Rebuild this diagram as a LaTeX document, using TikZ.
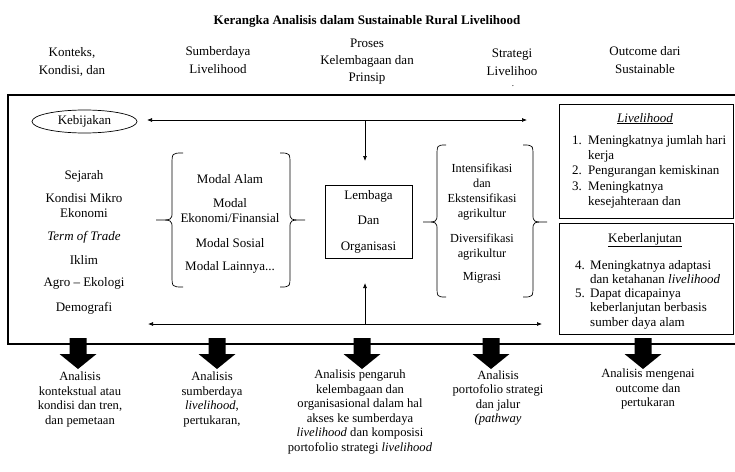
\documentclass[tikz,border=0pt]{standalone}
\usepackage{fontspec}
\setmainfont{Liberation Serif}
\usetikzlibrary{arrows.meta,shapes.geometric}
\tikzset{
  txt/.style={font=\fontsize{13}{15}\selectfont, align=center, inner sep=0pt},
  hdr/.style={font=\fontsize{13}{18}\selectfont, align=center, inner sep=0pt},
  stxt/.style={font=\fontsize{12.3}{15}\selectfont, align=center, inner sep=0pt},
  btxt/.style={font=\fontsize{12.6}{14.6}\selectfont, align=center, inner sep=0pt},
  ltxt/.style={font=\fontsize{13}{15}\selectfont, inner sep=0pt, anchor=base west},
  arr/.style={-{Latex[length=5pt,width=4pt]}, line width=0.7pt},
  ln/.style={line width=0.7pt},
  frame/.style={draw, line width=1pt, inner sep=0pt},
  bigarrow/.style={fill=black},
}
\begin{document}
\begin{tikzpicture}[x=1pt,y=-1pt]
\useasboundingbox (0,0) rectangle (735,471);
\clip (0,0) rectangle (735,471);
\fill[white] (0,0) rectangle (735,471);

% title and headers
\node[font=\bfseries\fontsize{13}{15}\selectfont, inner sep=0pt] (title) at (367,21) {Kerangka Analisis dalam Sustainable Rural Livelihood};
\node[hdr] (h1) at (72,62) {Konteks,\\Kondisi, dan};
\node[hdr] (h2) at (218,60) {Sumberdaya\\Livelihood};
\node[hdr, font=\fontsize{13}{17}\selectfont] (h3) at (367,62) {Proses\\Kelembagaan dan\\Prinsip};
\node[hdr] (h4) at (512,62) {Strategi\\Livelihoo};
\node[font=\fontsize{9}{10}\selectfont, inner sep=0pt, anchor=base] (h4dot) at (513,86) {.};
\node[hdr] (h5) at (645,60) {Outcome dari\\Sustainable};

% main frame (open on the right, beyond the page)
\draw[line width=1.1pt] (745,95) -- (8,95) -- (8,344) -- (745,344);

% policy ellipse
\node[draw, ellipse, line width=0.7pt, minimum width=105pt, minimum height=23pt, inner sep=0pt, font=\fontsize{13}{15}\selectfont] (keb) at (84.5,121.5) {Kebijakan};

% left column
\node[txt] (c1) at (84,176) {Sejarah};
\node[txt] (c2) at (84,205.5) {Kondisi Mikro\\Ekonomi};
\node[txt, font=\itshape\fontsize{13}{15}\selectfont] (c3) at (84,237) {Term of Trade};
\node[txt] (c4) at (84,260) {Iklim};
\node[txt] (c5) at (84,283) {Agro -- Ekologi};
\node[txt] (c6) at (84,308) {Demografi};

% capital column
\node[txt] (m1) at (230,179) {Modal Alam};
\node[txt] (m2) at (230,210.5) {Modal\\Ekonomi/Finansial};
\node[txt] (m3) at (230,243) {Modal Sosial};
\node[txt] (m4) at (230,267) {Modal Lainnya...};
% braces
\draw[ln] (183,153) .. controls (172,153) .. (172,165) -- (172,212) .. controls (172,220) .. (156,220)
          .. controls (172,220) .. (172,228) -- (172,275) .. controls (172,287) .. (183,287);
\draw[ln] (280,153) .. controls (290,153) .. (290,165) -- (290,212) .. controls (290,220) .. (305,220)
          .. controls (290,220) .. (290,228) -- (290,275) .. controls (290,287) .. (280,287);

% institutions box
\node[draw, line width=0.8pt, minimum width=87pt, minimum height=73pt, inner sep=0pt,
      font=\fontsize{13}{25.5}\selectfont, align=center] (lem) at (368.5,221.5) {Lembaga\\Dan\\Organisasi};

% connectors
\coordinate (jt) at (365,120);
\coordinate (jtL) at (147,120);
\coordinate (jtR) at (527,120);
\coordinate (dtip) at (365,161);
\coordinate (jb) at (365,324);
\coordinate (jbL) at (148,324);
\coordinate (jbR) at (542,324);
\coordinate (utip) at (365,283);
\draw[arr] (jt) -- (jtL);
\draw[arr] (jt) -- (jtR);
\draw[arr] (jt) -- (dtip);
\draw[arr] (jb) -- (jbL);
\draw[arr] (jb) -- (jbR);
\draw[arr] (jb) -- (utip);

% strategy column
\node[stxt] (s1) at (482,191.5) {Intensifikasi\\dan\\Ekstensifikasi\\agrikultur};
\node[stxt] (s2) at (482,246.5) {Diversifikasi\\agrikultur};
\node[stxt] (s3) at (482,278) {Migrasi};
\draw[ln] (446,145) .. controls (437,145) .. (437,157) -- (437,214) .. controls (437,222) .. (423,222)
          .. controls (437,222) .. (437,230) -- (437,285) .. controls (437,297) .. (446,297);
\draw[ln] (523,145) .. controls (533,145) .. (533,157) -- (533,214) .. controls (533,222) .. (547,222)
          .. controls (533,222) .. (533,230) -- (533,285) .. controls (533,297) .. (523,297);

% outcome boxes
\node[frame, minimum width=174pt, minimum height=114pt, anchor=north west] (box1) at (559,104) {};
\node[frame, minimum width=174pt, minimum height=111pt, anchor=north west] (box2) at (559,223) {};
\node[txt, anchor=base] (o1h) at (645,122) {\underline{\textit{Livelihood}}};
\node[ltxt] (n1) at (572,144) {1.};
\node[ltxt] (t1) at (588,144) {Meningkatnya jumlah hari};
\node[ltxt] (t1b) at (588,159) {kerja};
\node[ltxt] (n2) at (572,174) {2.};
\node[ltxt] (t2) at (588,174) {Pengurangan kemiskinan};
\node[ltxt] (n3) at (572,190) {3.};
\node[ltxt] (t3) at (588,190) {Meningkatnya};
\node[ltxt] (t3b) at (588,205) {kesejahteraan dan};
\node[txt, anchor=base] (o2h) at (645,242) {\underline{Keberlanjutan}};
\node[ltxt] (n4) at (575,269) {4.};
\node[ltxt] (t4) at (590,269) {Meningkatnya adaptasi};
\node[ltxt] (t4b) at (590,283) {dan ketahanan \textit{livelihood}};
\node[ltxt] (n5) at (575,297) {5.};
\node[ltxt] (t5) at (590,297) {Dapat dicapainya};
\node[ltxt] (t5b) at (590,311) {keberlanjutan berbasis};
\node[ltxt] (t5c) at (590,326) {sumber daya alam};

% big down arrows
\foreach \cx in {78,217,362,491,643}{
  \fill[bigarrow] (\cx-8.5,338) -- (\cx+8.5,338) -- (\cx+8.5,354) -- (\cx+18.5,354)
        -- (\cx,369) -- (\cx-18.5,354) -- (\cx-8.5,354) -- cycle;
}

% bottom analyses
\node[btxt] (b1) at (80,399.5) {Analisis\\kontekstual atau\\kondisi dan tren,\\dan pemetaan};
\node[btxt] (b2) at (212,399.5) {Analisis\\sumberdaya\\\textit{livelihood},\\pertukaran,};
\node[btxt] (b3) at (360,412) {Analisis pengaruh\\kelembagaan dan\\organisasional dalam hal\\akses ke sumberdaya\\\textit{livelihood} dan komposisi\\portofolio strategi \textit{livelihood}};
\node[btxt] (b4) at (498,398) {Analisis\\portofolio strategi\\dan jalur\\\textit{(pathway}};
\node[btxt] (b5) at (648,389) {Analisis mengenai\\outcome dan\\pertukaran};
\end{tikzpicture}
\end{document}
